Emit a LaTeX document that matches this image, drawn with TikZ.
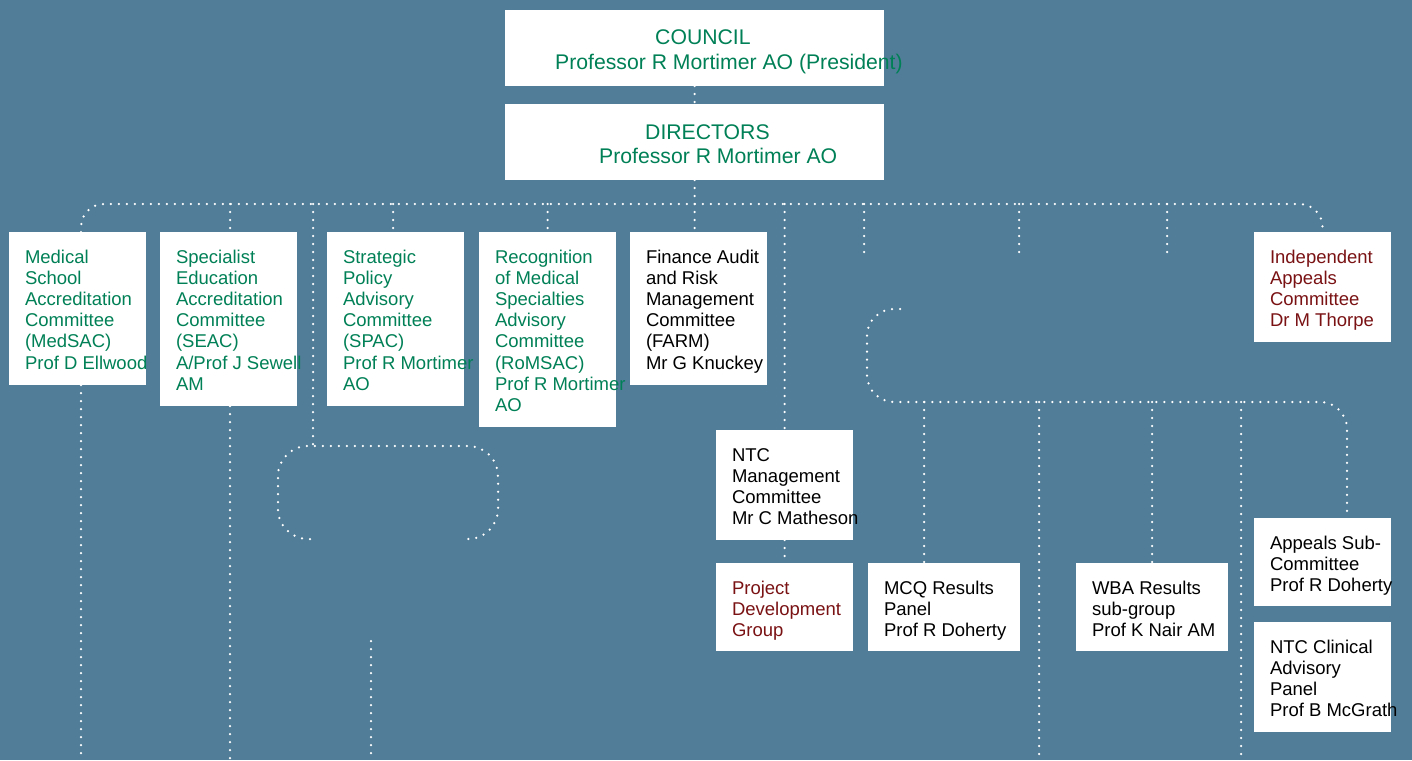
\documentclass[tikz,border=0pt]{standalone}
\usepackage{fontspec}
\setmainfont{Liberation Sans}
\usetikzlibrary{calc}
\definecolor{bg}{RGB}{82,125,152}
\definecolor{grn}{RGB}{0,128,86}
\definecolor{mrn}{RGB}{122,18,20}
\tikzset{
  orgbox/.style={fill=white, draw=none, inner sep=0pt, outer sep=0pt, anchor=north west},
  boxtxt/.style={inner sep=0pt, outer sep=0pt, anchor=north west, align=left, font=\fontsize{18.5}{21.1}\selectfont},
  toptxt/.style={inner sep=0pt, anchor=base west, text=grn, font=\fontsize{21.2}{24}\selectfont},
  dots/.style={white, line width=2.5pt, line cap=round, dash pattern=on 0pt off 8pt},
}
\newcommand{\mkbox}[7]{%
  \node[orgbox, minimum width=#4pt, minimum height=#5pt] (#1) at (#2,#3) {};
  \node[boxtxt, text=#6] (#1-t) at ([xshift=16pt,yshift=-17.5pt]#1.north west) {\rule{0pt}{14pt}#7};
}
\begin{document}
\begin{tikzpicture}[x=1pt, y=-1pt]
\fill[bg] (0,0) rectangle (1412,760);
\useasboundingbox (0,0) rectangle (1412,760);

% top boxes
\node[orgbox, minimum width=379pt, minimum height=76pt] (coun) at (505,10) {};
\node[toptxt] (coun-t1) at (655,45) {COUNCIL};
\node[toptxt] (coun-t2) at (555,69) {Professor R Mortimer AO (President)};
\node[orgbox, minimum width=379pt, minimum height=76pt] (dir) at (505,104) {};
\node[toptxt] (dir-t1) at (645,139) {DIRECTORS};
\node[toptxt] (dir-t2) at (599,163) {Professor R Mortimer AO};

% committee boxes
\mkbox{med}{9}{232}{137}{153}{grn}{Medical\\School\\Accreditation\\Committee\\(MedSAC)\\Prof D Ellwood}
\mkbox{seac}{160}{232}{137}{174}{grn}{Specialist\\Education\\Accreditation\\Committee\\(SEAC)\\A/Prof J Sewell\\AM}
\mkbox{spac}{327}{232}{137}{174}{grn}{Strategic\\Policy\\Advisory\\Committee\\(SPAC)\\Prof R Mortimer\\AO}
\mkbox{romsac}{479}{232}{137}{195}{grn}{Recognition\\of Medical\\Specialties\\Advisory\\Committee\\(RoMSAC)\\Prof R Mortimer\\AO}
\mkbox{farm}{630}{232}{137}{153}{black}{Finance Audit\\and Risk\\Management\\Committee\\(FARM)\\Mr G Knuckey}
\mkbox{iac}{1254}{232}{137}{110}{mrn}{Independent\\Appeals\\Committee\\Dr M Thorpe}
\mkbox{ntcm}{716}{430}{137}{110}{black}{NTC\\Management\\Committee\\Mr C Matheson}
\mkbox{pdg}{716}{563}{137}{88}{mrn}{Project\\Development\\Group}
\mkbox{mcq}{868}{563}{152}{88}{black}{MCQ Results\\Panel\\Prof R Doherty}
\mkbox{wba}{1076}{563}{152}{88}{black}{WBA Results\\sub-group\\Prof K Nair AM}
\mkbox{asc}{1254}{518}{137}{88}{black}{Appeals Sub-\\Committee\\Prof R Doherty}
\mkbox{ntcc}{1254}{622}{137}{110}{black}{NTC Clinical\\Advisory\\Panel\\Prof B McGrath}

% coordinates
\coordinate (bus) at (695,204);
\coordinate (loopA) at (313,446);
\coordinate (stubA1) at (371,641);
\coordinate (stubA2) at (371,760);
\coordinate (rbus) at (924,402);

% connectors
\draw[dots] (coun.south) -- (dir.north);
\draw[dots] (dir.south) -- (dir.south |- farm.north);
\draw[dots, rounded corners=23pt] ([xshift=72pt]med.north west) |- (bus) -| (iac.north);
\draw[dots] ([xshift=70pt]seac.north west |- bus) -- ([xshift=70pt]seac.north west);
\draw[dots] ([xshift=66pt]spac.north west |- bus) -- ([xshift=66pt]spac.north west);
\draw[dots] (romsac.north |- bus) -- (romsac.north);
\draw[dots] (loopA |- bus) -- (loopA);
\draw[dots, rounded corners=30pt] (310,539) -- (278,539) -- (278,446) -- (498,446) -- (498,539) -- (466,539);
\draw[dots] (stubA1) -- (stubA2);
\draw[dots] (ntcm.north |- bus) -- (ntcm.north);
\draw[dots] (ntcm.south) -- (pdg.north);
\draw[dots] (864,204) -- (864,256);
\draw[dots] (1019,204) -- (1019,256);
\draw[dots] (1167,204) -- (1167,256);
\draw[dots, rounded corners=27pt] (900,309) -- (867,309) -- (867,402) -- (1347,402) -- ([xshift=93pt]asc.north west);
\draw[dots] (rbus) -- ([xshift=56pt]mcq.north west);
\draw[dots] (1039,402) -- (1039,760);
\draw[dots] (wba.north |- rbus) -- (wba.north);
\draw[dots] (1241,402) -- (1241,760);
\draw[dots] ([xshift=72pt]med.south west) -- ++(0,375);
\draw[dots] ([xshift=70pt]seac.south west) -- ++(0,354);
\end{tikzpicture}
\end{document}
